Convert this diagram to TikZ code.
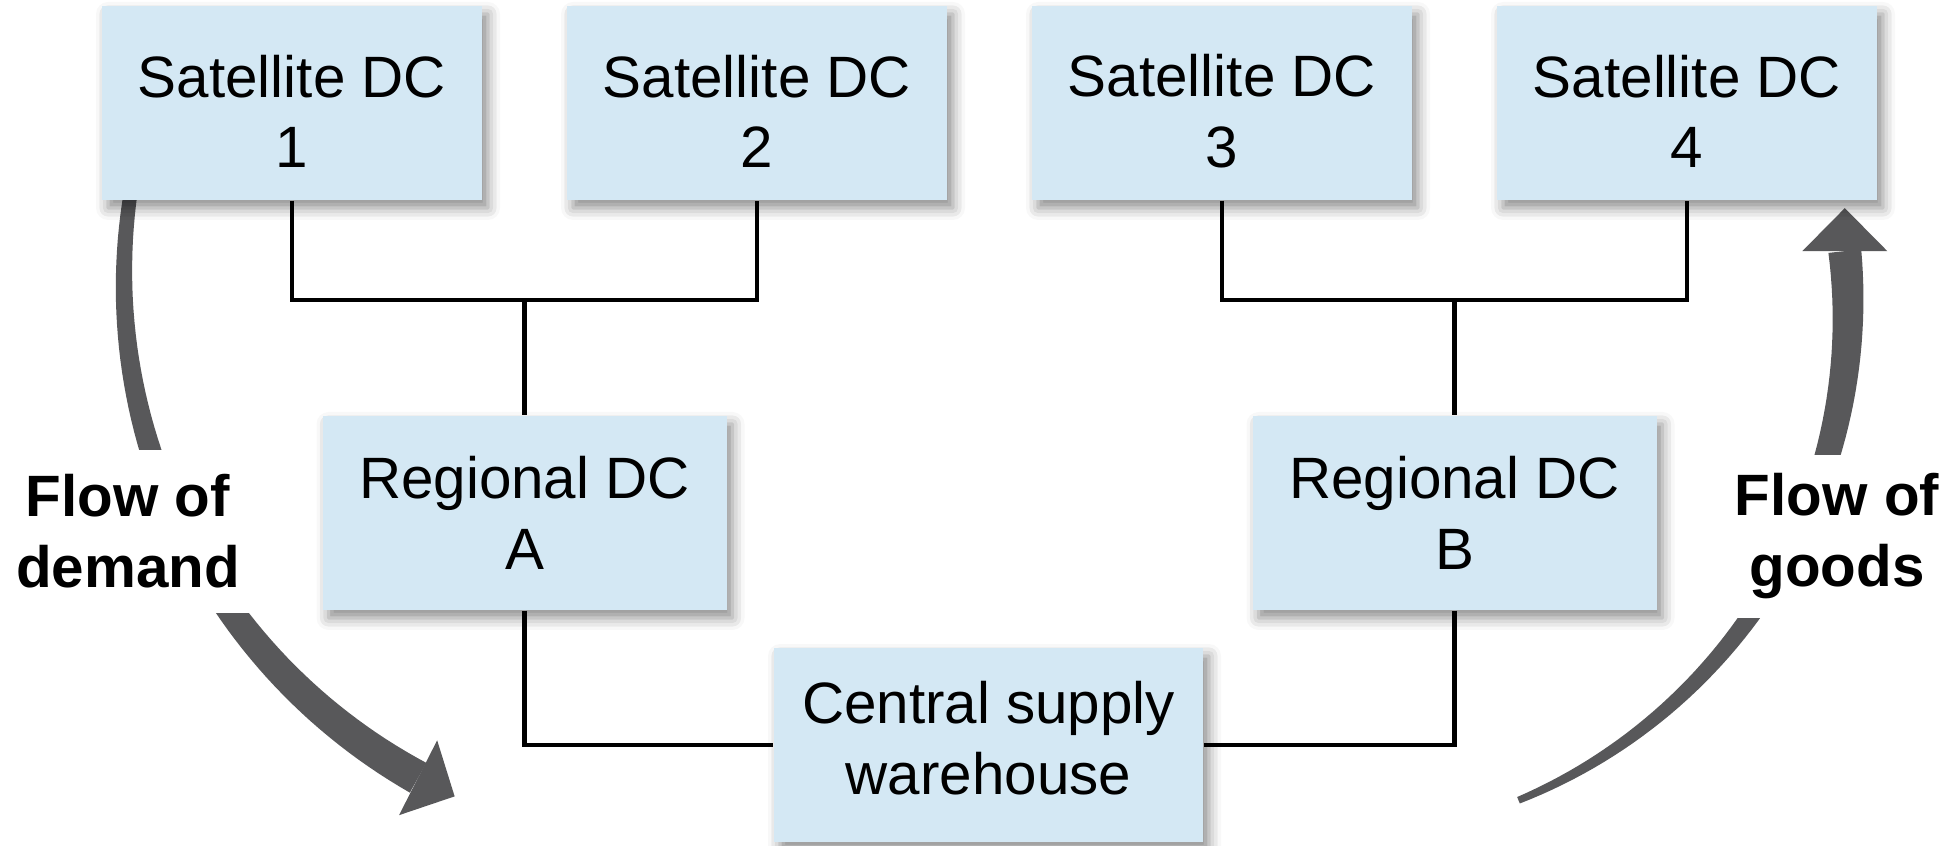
\documentclass[tikz,border=0pt]{standalone}
\usepackage{fontspec}
\setmainfont{Liberation Sans}
\usetikzlibrary{calc,shadows.blur}
\definecolor{dcblue}{HTML}{D4E8F4}
\definecolor{flowgray}{HTML}{58585A}
\tikzset{
  dc box/.style={rectangle,fill=dcblue,inner sep=0pt,minimum height=1.94cm,
    align=center,font=\fontsize{16.6}{20.2}\selectfont,
    blur shadow={shadow xshift=0.06cm,shadow yshift=-0.08cm,
      shadow blur radius=0.12cm,shadow opacity=45}},
  satellite/.style={dc box,minimum width=3.80cm},
  regional/.style={dc box,minimum width=4.04cm},
  central/.style={dc box,minimum width=4.29cm},
  link/.style={draw=black,line width=1.2pt},
  flow/.style={fill=flowgray},
  flow label/.style={fill=white,inner xsep=0.1cm,inner ysep=0pt,
    minimum height=1.63cm,align=center,
    font=\fontsize{16.6}{20.2}\selectfont\bfseries}
}

\begin{document}
\begin{tikzpicture}
  \useasboundingbox (0,0) rectangle (19.59,8.45);
  \begin{scope}[shift={(6.94,5.66)}]
    \fill[flow] plot[domain=170:241.05,samples=60,variable=\t]
        ({(5.70+0.07+0.10*(\t-172)/69)*cos(\t)},{(5.70+0.07+0.10*(\t-172)/69)*sin(\t)})
      -- plot[domain=241.05:170,samples=60,variable=\t]
        ({(5.70-0.07-0.10*(\t-172)/69)*cos(\t)},{(5.70-0.07-0.10*(\t-172)/69)*sin(\t)})
      -- cycle;
    \coordinate (dend) at (241.05:5.70);
  \end{scope}
  \fill[flow] ($(dend)+(63:0.42)$) -- ($(dend)+(333:0.41)$) -- ($(dend)+(243:0.42)$) -- cycle;
  \begin{scope}[shift={(13.17,5.36)}]
    \fill[flow] plot[domain=-67.7:6.26,samples=60,variable=\t]
        ({(5.31+0.035+0.13*(\t+67.7)/74)*cos(\t)},{(5.31+0.035+0.13*(\t+67.7)/74)*sin(\t)})
      -- plot[domain=6.26:-67.7,samples=60,variable=\t]
        ({(5.31-0.035-0.13*(\t+67.7)/74)*cos(\t)},{(5.31-0.035-0.13*(\t+67.7)/74)*sin(\t)})
      -- cycle;
    \coordinate (gend) at (6.26:5.31);
  \end{scope}
  \fill[flow] ($(gend)+(-0.425,0)$) -- ($(gend)+(0,0.43)$) -- ($(gend)+(0.425,0)$) -- cycle;

  \node[flow label] (demand) at (1.28,3.14) {Flow of\\demand};
  \node[flow label] (goods) at (18.37,3.085) {Flow of\\goods};

  \foreach \i/\x in {1/2.92,2/7.57,3/12.22,4/16.87}
    \node[satellite] (s\i) at (\x,7.42) {\rule{0pt}{0.59cm}Satellite DC\\\i};
  \node[regional] (ra) at (5.245,3.32) {Regional DC\\A};
  \node[regional] (rb) at (14.545,3.32) {Regional DC\\B};
  \node[central] (cw) at (9.885,1.00) {Central supply\\warehouse\rule[-0.15cm]{0pt}{0pt}};

  \coordinate (busA) at (5.245,5.45);
  \coordinate (busB) at (14.545,5.45);
  \draw[link] (s1.south) |- (busA) -| (s2.south);
  \draw[link] (busA) -- (ra.north);
  \draw[link] (s3.south) |- (busB) -| (s4.south);
  \draw[link] (busB) -- (rb.north);
  \draw[link] (ra.south) |- (cw.west);
  \draw[link] (rb.south) |- (cw.east);
\end{tikzpicture}
\end{document}
